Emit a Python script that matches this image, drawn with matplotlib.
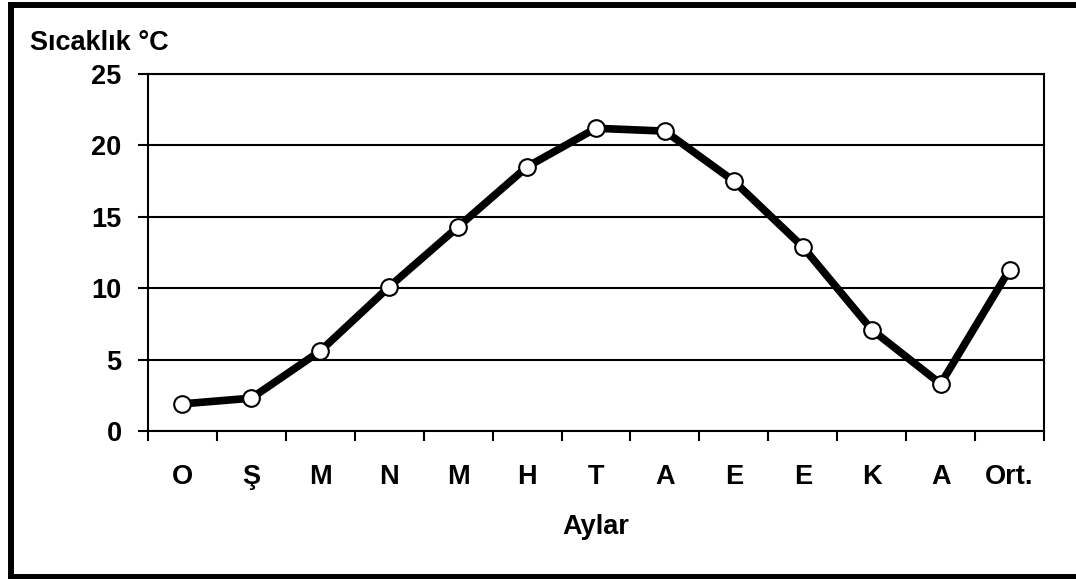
import matplotlib.pyplot as plt
from matplotlib.lines import Line2D
import numpy as np

plt.rcParams['font.family'] = ['Liberation Sans', 'DejaVu Sans']
plt.rcParams['font.weight'] = 'bold'

months = ['O', 'Ş', 'M', 'N', 'M', 'H', 'T', 'A', 'E', 'E', 'K', 'A', 'Ort.']
temps = [1.9, 2.3, 5.6, 10.1, 14.3, 18.5, 21.2, 21.0, 17.5, 12.9, 7.1, 3.3, 11.3]

fig = plt.figure(figsize=(10.76, 5.79), dpi=100)
ax = fig.add_axes([0.1375, 0.2556, 0.8328, 0.6166])

x = np.arange(len(months))
ax.plot(x, temps, color='black', linewidth=5.5, marker='o', markersize=12,
        markerfacecolor='white', markeredgecolor='black', markeredgewidth=1.5,
        zorder=3)

ax.set_xlim(-0.5, len(months) - 0.5)
ax.set_ylim(0, 25)
ax.set_yticks([0, 5, 10, 15, 20, 25])
ax.yaxis.grid(True, color='black', linewidth=1.5)
ax.set_axisbelow(True)

ax.set_xticks(x)
ax.set_xticklabels(months)
ax.set_xticks(np.arange(-0.5, len(months)), minor=True)
ax.tick_params(axis='x', which='major', length=0, pad=24, labelsize=19.5)
ax.tick_params(axis='x', which='minor', length=7, width=1.5, direction='out')
ax.tick_params(axis='y', length=7, width=1.5, labelsize=19.5, pad=12)

for s in ax.spines.values():
    s.set_linewidth(1.5)

ax.set_xlabel('Aylar', fontsize=19.5, fontweight='bold', labelpad=17)
fig.text(0.028, 0.903, 'Sıcaklık °C', fontsize=19.5, fontweight='bold',
         ha='left', va='bottom')

# frame: left, top and bottom edges (right edge falls outside the picture)
xl, yt, yb = 10.5 / 1076, 1 - 5 / 579, 1 - 576.5 / 579
for xs, ys in [([xl, 1.01], [yt, yt]), ([xl, xl], [yt, yb]), ([xl, 1.01], [yb, yb])]:
    fig.add_artist(Line2D(xs, ys, transform=fig.transFigure, color='black',
                          linewidth=4.3, solid_capstyle='projecting'))

plt.savefig('out.png', dpi=100)
